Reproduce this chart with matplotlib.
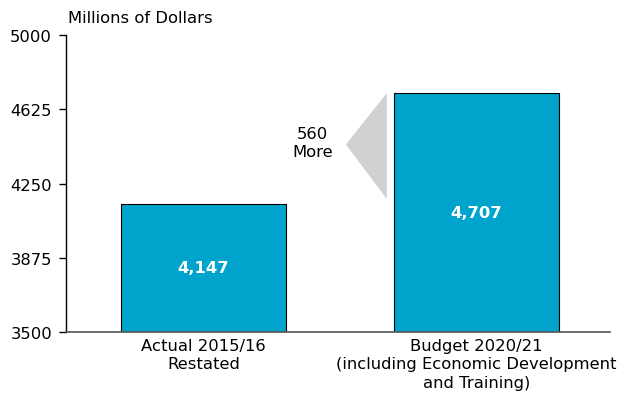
import numpy as np
import matplotlib.pyplot as plt
from matplotlib.patches import Polygon

categories = ['Actual 2015/16\nRestated',
              'Budget 2020/21\n(including Economic Development\nand Training)']
values = [4147, 4707]
yticks = [3500, 3875, 4250, 4625, 5000]
diff_label = '560\nMore'

bar_color = '#00a3cc'
fsize = 11.8

fig = plt.figure(figsize=(6.28, 4.02), dpi=100)
ax = fig.add_axes([0.105, 0.1716, 0.866, 0.7388])

x_vals = np.arange(len(values))
ax.bar(x_vals, values, width=0.605, color=bar_color, edgecolor='black', linewidth=0.8, zorder=2)

for x, v in zip(x_vals, values):
    ax.text(x, (3500 + v) / 2, f'{v:,}', ha='center', va='center',
            color='white', fontsize=fsize, fontweight='bold', zorder=3)

# grey wedge pointing from the taller bar toward the difference label
tri = Polygon([[0.672, values[0] + 25], [0.672, values[1]], [0.522, (values[0] + values[1]) / 2 + 20]],
              closed=True, facecolor='#d0d1d3', edgecolor='none', zorder=1)
ax.add_patch(tri)
ax.text(0.401, 4457, diff_label, ha='center', va='center', fontsize=fsize, linespacing=1.3)

ax.set_xlim(-0.5037, 1.489)
ax.set_ylim(3500, 5000)
ax.set_yticks(yticks)
ax.set_yticklabels([str(t) for t in yticks], fontsize=fsize)
ax.set_xticks(x_vals)
ax.set_xticklabels(categories, fontsize=fsize, linespacing=1.3)
ax.tick_params(axis='x', length=0, pad=4)
ax.tick_params(axis='y', length=5, width=1, direction='out', pad=5)

ax.spines['top'].set_visible(False)
ax.spines['right'].set_visible(False)
ax.spines['left'].set_linewidth(1)
ax.spines['bottom'].set_color('#555555')
ax.spines['bottom'].set_linewidth(1.2)

fig.text(0.108, 0.955, 'Millions of Dollars', fontsize=fsize, ha='left', va='center')

fig.savefig('out.png', dpi=100)
